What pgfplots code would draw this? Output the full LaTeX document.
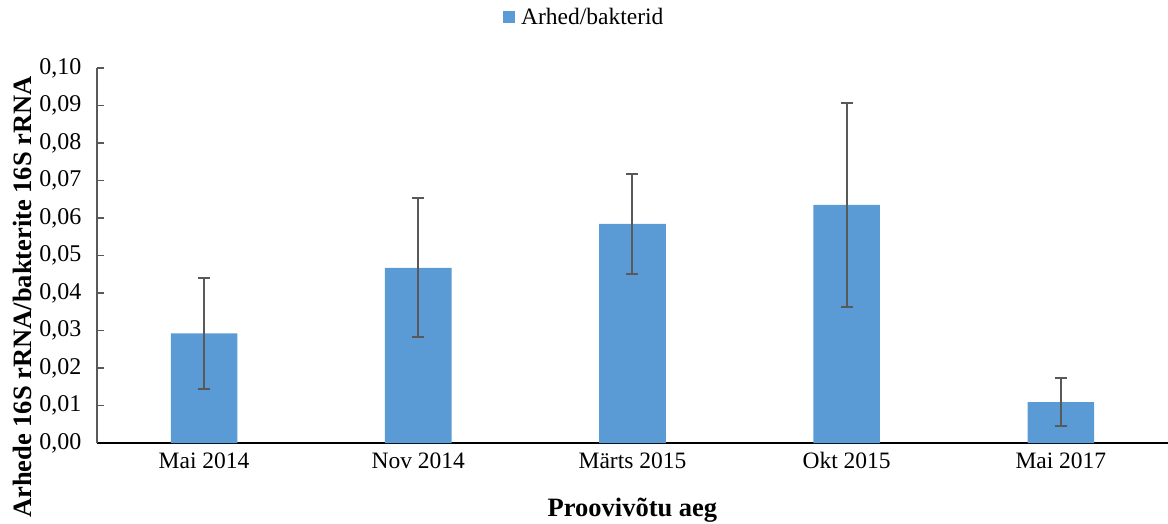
\documentclass[border=0pt]{standalone}
\usepackage{pgfplots}
\pgfplotsset{compat=1.18}
\usepackage{fontspec}
\setmainfont{Liberation Serif}
\definecolor{barblue}{HTML}{5B9BD5}
\definecolor{errgray}{HTML}{595959}
\begin{document}
\begin{tikzpicture}
\useasboundingbox (-97bp,-81bp) rectangle (1071bp,443bp);
\begin{axis}[
  scale only axis,
  width=1071bp, height=375bp,
  xmin=-0.5, xmax=4.5,
  ymin=0, ymax=0.1,
  ytick={0,0.01,0.02,0.03,0.04,0.05,0.06,0.07,0.08,0.09,0.1},
  /pgf/number format/fixed,
  /pgf/number format/fixed zerofill,
  /pgf/number format/precision=2,
  /pgf/number format/use comma,
  /pgf/number format/assume math mode=true,
  yticklabel style={font=\fontsize{24bp}{26bp}\selectfont, xshift=-12bp},
  xtick=data,
  xticklabels={Mai 2014, Nov 2014, Märts 2015, Okt 2015, Mai 2017},
  xticklabel style={font=\fontsize{23.5bp}{26bp}\selectfont, yshift=-6bp},
  major x tick style={draw=none},
  tick align=inside,
  ytick style={color=errgray, line width=1.2bp},
  major tick length=7bp,
  axis x line*=bottom,
  axis y line*=left,
  x axis line style={black, line width=2bp, -},
  y axis line style={errgray, line width=1.5bp, -},
  xlabel={\textbf{Proovivõtu aeg}},
  xlabel style={font=\fontsize{26.5bp}{30bp}\selectfont, at={(axis description cs:0.5,-0.18)}, anchor=center},
  ylabel={\textbf{Arhede 16S rRNA/bakterite 16S rRNA}},
  ylabel style={font=\fontsize{26.5bp}{30bp}\selectfont, at={(axis description cs:-0.07,0.3893)}, anchor=center, rotate=0},
  legend style={at={(axis description cs:0.455,1.136)}, anchor=center, draw=none, font=\fontsize{23.5bp}{26bp}\selectfont, legend cell align=left},
  legend image code/.code={\fill[barblue] (0bp,-6bp) rectangle (12bp,6bp);},
  clip=false,
]
\addplot[ybar, bar width=0.311, fill=barblue, draw=none,
  error bars/.cd, y dir=both, y explicit,
  error bar style={errgray, line width=2bp},
  error mark options={errgray, line width=2bp, mark size=6bp, rotate=90}]
coordinates {
  (0,0.0292) +- (0,0.0149)
  (1,0.0467) +- (0,0.0185)
  (2,0.0584) +- (0,0.0134)
  (3,0.0635) +- (0,0.0272)
  (4,0.0109) +- (0,0.0064)
};
\addlegendentry{\hspace{4bp}Arhed/bakterid}
\end{axis}
\end{tikzpicture}
\end{document}
